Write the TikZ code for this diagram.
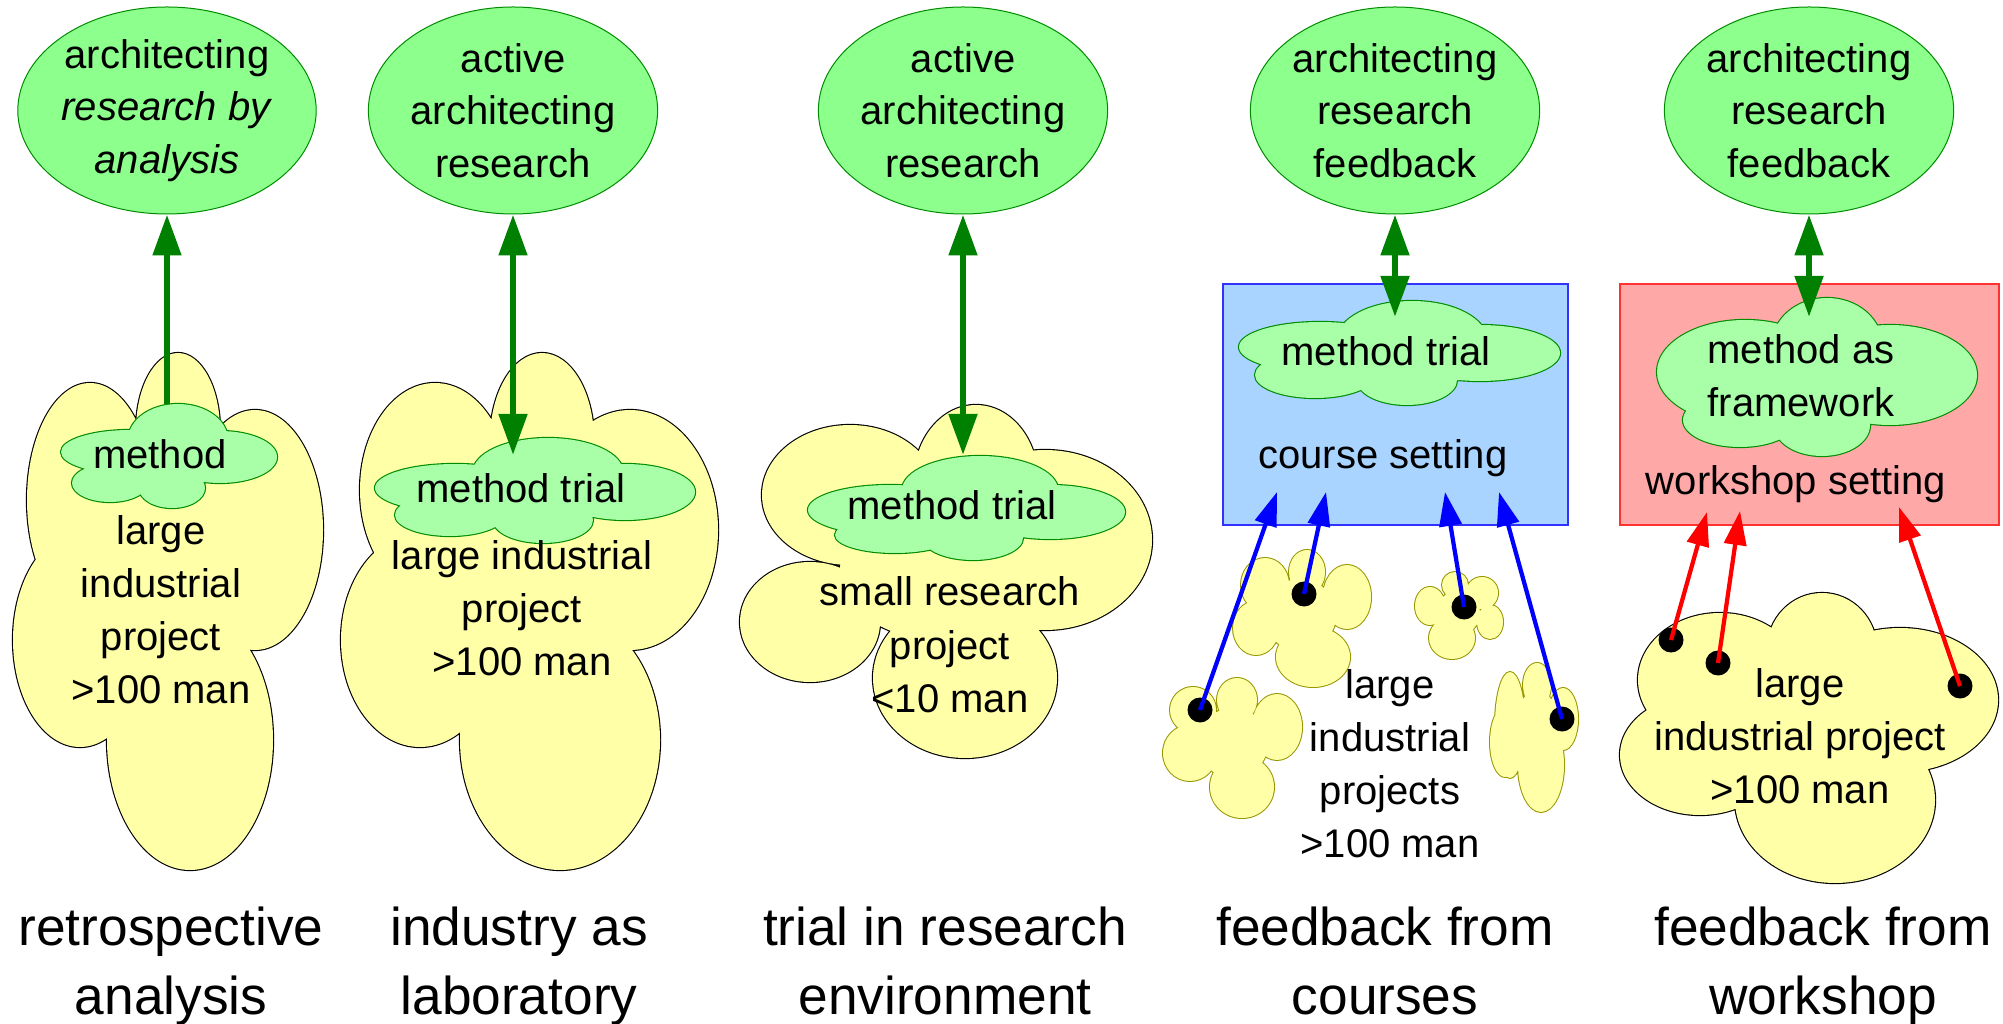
\documentclass[tikz,border=0pt]{standalone}
\usepackage{fontspec}
\setmainfont{Liberation Sans}
\usetikzlibrary{shapes.geometric,arrows.meta}
\definecolor{egreen}{RGB}{140,255,140}
\definecolor{eborder}{RGB}{0,140,0}
\definecolor{mgreen}{RGB}{168,255,168}
\definecolor{mborder}{RGB}{0,140,0}
\definecolor{dgreen}{RGB}{0,128,0}
\definecolor{cyellow}{RGB}{255,255,168}
\definecolor{olivec}{RGB}{150,150,0}
\definecolor{bfill}{RGB}{168,212,255}
\definecolor{bline}{RGB}{50,50,255}
\definecolor{rfill}{RGB}{255,168,168}
\definecolor{rline}{RGB}{255,50,50}
\tikzset{
  pYa/.style={insert path={(178,430) ellipse [x radius=42,y radius=77] (90,500) ellipse [x radius=63,y radius=117] (255,530) ellipse [x radius=68,y radius=120] (80,640) ellipse [x radius=67,y radius=107] (190,740) ellipse [x radius=83,y radius=130] (165,570) ellipse [x radius=90,y radius=130]}},
  pYb/.style={insert path={(542,440) ellipse [x radius=52,y radius=87] (435,490) ellipse [x radius=75,y radius=107] (630,530) ellipse [x radius=88,y radius=120] (420,640) ellipse [x radius=79,y radius=107] (560,740) ellipse [x radius=100,y radius=130] (530,580) ellipse [x radius=110,y radius=130]}},
  pYc/.style={insert path={(976,480) ellipse [x radius=62,y radius=75] (850,495) ellipse [x radius=88,y radius=70] (810,622) ellipse [x radius=70,y radius=60] (965,678) ellipse [x radius=92,y radius=80] (1045,540) ellipse [x radius=107,y radius=90] (940,570) ellipse [x radius=100,y radius=70]}},
  pYe/.style={insert path={(1720,680) ellipse [x radius=82,y radius=67] (1822,650) ellipse [x radius=55,y radius=57] (1900,700) ellipse [x radius=98,y radius=72] (1835,800) ellipse [x radius=100,y radius=83] (1700,755) ellipse [x radius=80,y radius=60] (1810,730) ellipse [x radius=120,y radius=70]}},
  pGa/.style={insert path={(178,440) ellipse [x radius=50,y radius=36] (130,452) ellipse [x radius=69,y radius=22] (220,457) ellipse [x radius=57,y radius=26] (110,483) ellipse [x radius=38,y radius=19] (172,488) ellipse [x radius=33,y radius=20] (165,462) ellipse [x radius=70,y radius=22]}},
  pGb/.style={insert path={(548,472) ellipse [x radius=75,y radius=34] (455,488) ellipse [x radius=80,y radius=24] (625,492) ellipse [x radius=70,y radius=28] (450,515) ellipse [x radius=55,y radius=21] (543,520) ellipse [x radius=50,y radius=23] (535,495) ellipse [x radius=110,y radius=25]}},
  pGc/.style={insert path={(980,490) ellipse [x radius=78,y radius=34] (890,510) ellipse [x radius=82,y radius=25] (1050,512) ellipse [x radius=75,y radius=27] (895,535) ellipse [x radius=60,y radius=18] (973,538) ellipse [x radius=50,y radius=22] (965,515) ellipse [x radius=110,y radius=25]}},
  pGd/.style={insert path={(1412,340) ellipse [x radius=75,y radius=39] (1320,347) ellipse [x radius=81,y radius=25] (1480,353) ellipse [x radius=80,y radius=28] (1315,375) ellipse [x radius=60,y radius=23] (1407,380) ellipse [x radius=50,y radius=25] (1400,357) ellipse [x radius=115,y radius=27]}},
  pGe/.style={insert path={(1827,345) ellipse [x radius=55,y radius=47] (1745,372) ellipse [x radius=88,y radius=52] (1890,375) ellipse [x radius=87,y radius=50] (1740,420) ellipse [x radius=57,y radius=27] (1822,425) ellipse [x radius=48,y radius=31] (1810,385) ellipse [x radius=110,y radius=45]}},
  pSa/.style={insert path={(1193,710) ellipse [x radius=23,y radius=23] (1237,700) ellipse [x radius=20,y radius=22] (1277,727) ellipse [x radius=25,y radius=33] (1242,787) ellipse [x radius=32,y radius=31] (1190,753) ellipse [x radius=27,y radius=28] (1233,743) ellipse [x radius=35,y radius=35]}},
  pSb/.style={insert path={(1265,585) ellipse [x radius=24,y radius=27] (1307,572) ellipse [x radius=18,y radius=22] (1347,597) ellipse [x radius=24,y radius=32] (1313,657) ellipse [x radius=37,y radius=30] (1256,628) ellipse [x radius=23,y radius=27] (1300,615) ellipse [x radius=36,y radius=36]}},
  pSc/.style={insert path={(1455,585) ellipse [x radius=13,y radius=13] (1482,593) ellipse [x radius=16,y radius=16] (1490,622) ellipse [x radius=13,y radius=17] (1452,638) ellipse [x radius=23,y radius=21] (1430,606) ellipse [x radius=15,y radius=19] (1458,613) ellipse [x radius=22,y radius=22]}},
  pSd/.style={insert path={(1510,725) ellipse [x radius=15,y radius=53] (1537,685) ellipse [x radius=14,y radius=22] (1563,719) ellipse [x radius=15,y radius=31] (1541,765) ellipse [x radius=23,y radius=47] (1505,742) ellipse [x radius=15,y radius=35] (1537,730) ellipse [x radius=22,y radius=40]}},
}
\begin{document}
\begin{tikzpicture}[x=0.4pt,y=-0.4pt,
  topell/.style={ellipse, draw=eborder, fill=egreen, line width=0.4pt, minimum width=110.4pt, minimum height=82.8pt, inner sep=0pt, align=center, font=\fontsize{16}{21}\selectfont},
  txt/.style={align=center, anchor=base, font=\fontsize{16}{21.2}\selectfont, inner sep=0pt},
  lbl/.style={align=center, anchor=base, font=\fontsize{21.3}{27.6}\selectfont, inner sep=0pt},
  ystroke/.style={draw=black, line width=0.9pt},
  yfill/.style={fill=cyellow},
  gstroke/.style={draw=mborder, line width=0.9pt},
  gfill/.style={fill=mgreen},
  sstroke/.style={draw=olivec, line width=0.8pt},
  garrow/.style={draw=dgreen, line width=2.6pt},
  gone/.style={garrow, -{Triangle[length=16.4pt,width=11pt]}},
  gtwo/.style={garrow, {Triangle[length=16.4pt,width=11pt]}-{Triangle[length=16.4pt,width=11pt]}},
  barrow/.style={draw=blue, line width=1.7pt, -{Triangle[length=13.6pt,width=8.8pt]}},
  rarrow/.style={draw=red, line width=1.7pt, -{Triangle[length=13.6pt,width=8.8pt]}},
  dot/.style={circle, fill=black, inner sep=0pt, minimum size=10pt},
  bluebox/.style={draw=bline, fill=bfill, line width=0.5pt},
  redbox/.style={draw=rline, fill=rfill, line width=0.5pt},
]
\useasboundingbox (0,0) rectangle (2003,1024);

% yellow project clouds
\path[ystroke,pYa]; \path[yfill,pYa];
\path[ystroke,pYb]; \path[yfill,pYb];
\path[ystroke,pYc]; \path[yfill,pYc];
\path[ystroke,pYe]; \path[yfill,pYe];

% settings boxes
\draw[bluebox] (1223,284) rectangle (1568,525);
\draw[redbox] (1620,284) rectangle (1999,525);

% method clouds
\path[gstroke,pGa]; \path[gfill,pGa];
\path[gstroke,pGb]; \path[gfill,pGb];
\path[gstroke,pGc]; \path[gfill,pGc];
\path[gstroke,pGd]; \path[gfill,pGd];
\path[gstroke,pGe]; \path[gfill,pGe];

% small project clouds
\path[sstroke,pSa]; \path[yfill,pSa];
\path[sstroke,pSb]; \path[yfill,pSb];
\path[sstroke,pSc]; \path[yfill,pSc];
\path[sstroke,pSd]; \path[yfill,pSd];

% top ellipses
\node[topell] (e1) at (167,110.5) {architecting\\\textit{research by}\\\textit{analysis}};
\node[topell] (e2) at (513,110.5) {active\\architecting\\research};
\node[topell] (e3) at (963,110.5) {active\\architecting\\research};
\node[topell] (e4) at (1395,110.5) {architecting\\research\\feedback};
\node[topell] (e5) at (1809,110.5) {architecting\\research\\feedback};

% arrow end points on the method clouds
\coordinate (m1) at (167,404);
\coordinate (m2) at (513,455);
\coordinate (m3) at (963,455);
\coordinate (m4) at (1395,317);
\coordinate (m5) at (1809,317);

\draw[gone] (m1) -- (e1.south);
\draw[gtwo] (e2.south) -- (m2);
\draw[gtwo] (e3.south) -- (m3);
\draw[gtwo] (e4.south) -- (m4);
\draw[gtwo] (e5.south) -- (m5);

% texts
\node[txt] (tg1) at (160,469) {method};
\node[txt] (ty1) at (161,703) {large\\industrial\\project\\>100 man};
\node[txt] (tg2) at (521,503) {method trial};
\node[txt] (ty2) at (522,675) {large industrial\\project\\>100 man};
\node[txt] (tg3) at (952,520) {method trial};
\node[txt] (ty3) at (950,712) {small research\\project\\<10 man};
\node[txt] (tg4) at (1386,366) {method trial};
\node[txt] (tcs) at (1383,469) {course setting};
\node[txt] (ty4) at (1390,857) {large\\industrial\\projects\\>100 man};
\node[txt] (tg5) at (1801,417) {method as\\framework};
\node[txt] (tws) at (1796,495) {workshop setting};
\node[txt] (ty5) at (1800,803) {large\\industrial project\\>100 man};

% dots and feedback arrows
\node[dot] (da) at (1200,710) {};
\node[dot] (db) at (1304,594) {};
\node[dot] (dc) at (1464,607) {};
\node[dot] (dd) at (1562,719) {};
\node[dot] (ra) at (1671,640) {};
\node[dot] (rb) at (1718,663) {};
\node[dot] (rc) at (1960,686) {};
\coordinate (ta) at (1277,492);
\coordinate (tb) at (1326,492);
\coordinate (tc) at (1445,492);
\coordinate (td) at (1499,492);
\coordinate (ua) at (1707,512);
\coordinate (ub) at (1740,511);
\coordinate (uc) at (1899,507);
\draw[barrow] (da.center) -- (ta);
\draw[barrow] (db.center) -- (tb);
\draw[barrow] (dc.center) -- (tc);
\draw[barrow] (dd.center) -- (td);
\draw[rarrow] (ra.center) -- (ua);
\draw[rarrow] (rb.center) -- (ub);
\draw[rarrow] (rc.center) -- (uc);

% bottom labels
\node[lbl] (l1) at (171,1014) {retrospective\\analysis};
\node[lbl] (l2) at (519,1014) {industry as\\laboratory};
\node[lbl] (l3) at (945,1014) {trial in research\\environment};
\node[lbl] (l4) at (1385,1014) {feedback from\\courses};
\node[lbl] (l5) at (1823,1014) {feedback from\\workshop};
\end{tikzpicture}
\end{document}
